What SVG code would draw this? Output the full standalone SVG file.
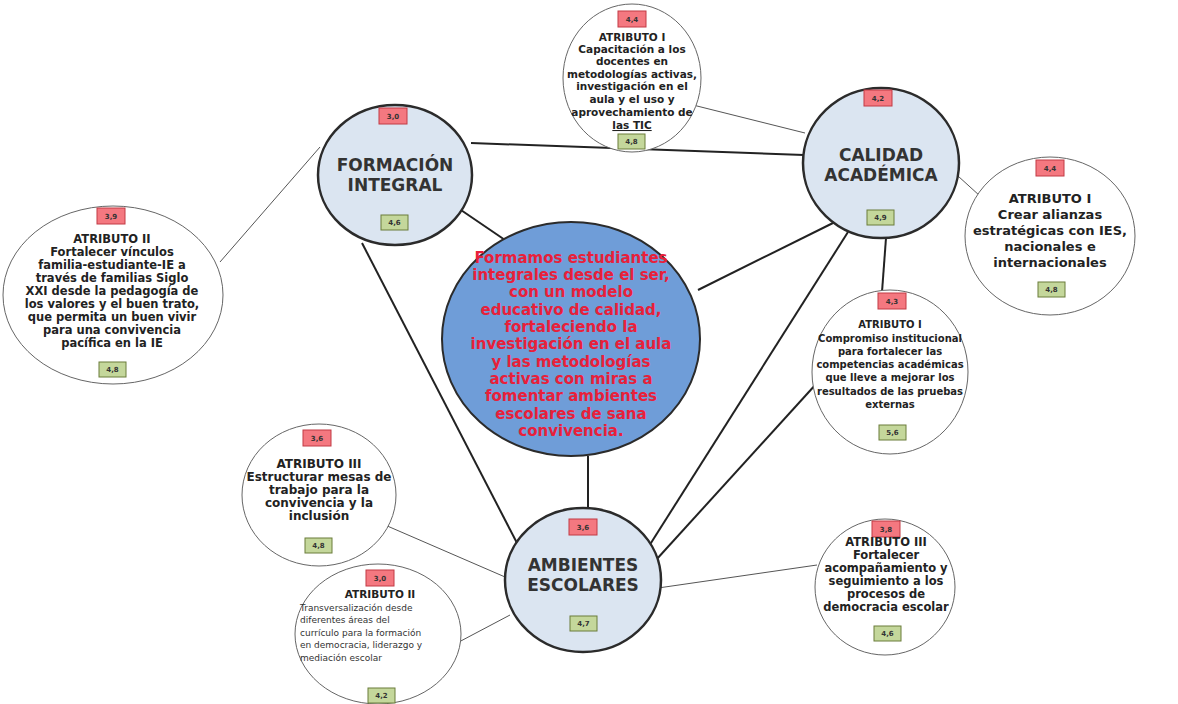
<svg xmlns="http://www.w3.org/2000/svg" width="1178" height="704" viewBox="0 0 1178 704">
<style>
.main{fill:#dbe5f1;stroke:#2b2b2b;stroke-width:2.5}
.core{fill:#6f9dd8;stroke:#2b2b2b;stroke-width:2}
.attr{fill:#fff;stroke:#666;stroke-width:1}
.red{fill:#f47880;stroke:#c23a44;stroke-width:1}
.green{fill:#c4d79b;stroke:#6b7d3a;stroke-width:1}
.num{font-family:"DejaVu Sans",sans-serif;font-weight:bold;font-size:7px;fill:#333;text-anchor:middle}
.title{font-family:"DejaVu Sans",sans-serif;font-weight:bold;font-size:17px;fill:#333;text-anchor:middle}
.at{font-family:"DejaVu Sans",sans-serif;font-weight:bold;fill:#222;text-anchor:middle}
.ctr{font-family:"DejaVu Sans",sans-serif;font-weight:bold;font-size:15px;fill:#e8203a;text-anchor:middle}
.thick{stroke:#222;stroke-width:2;fill:none}
.thin{stroke:#555;stroke-width:1;fill:none}
</style>
<rect width="1178" height="704" fill="#fff"/>
<g id="connectors">
<line class="thick" x1="471" y1="143" x2="804" y2="155"/>
<line class="thick" x1="458" y1="208" x2="505" y2="240"/>
<line class="thick" x1="362" y1="243" x2="518" y2="545"/>
<line class="thick" x1="835" y1="222" x2="698" y2="290"/>
<line class="thick" x1="848" y1="232" x2="637" y2="565"/>
<line class="thick" x1="886" y1="238" x2="882" y2="292"/>
<line class="thick" x1="817" y1="383" x2="656" y2="560"/>
<line class="thick" x1="588" y1="456" x2="588" y2="508"/>
<line class="thin" x1="693" y1="105" x2="805" y2="133"/>
<line class="thin" x1="958" y1="176" x2="980" y2="196"/>
<line class="thin" x1="220" y1="262" x2="320" y2="147"/>
<line class="thin" x1="385" y1="525" x2="512" y2="580"/>
<line class="thin" x1="457" y1="643" x2="510" y2="615"/>
<line class="thin" x1="817" y1="565" x2="658" y2="588"/>
</g>
<g id="center">
<ellipse class="core" cx="571" cy="339" rx="129" ry="117"/>
<text class="ctr"><tspan x="571" y="263">Formamos estudiantes</tspan><tspan x="571" y="280">integrales desde el ser,</tspan><tspan x="571" y="297">con un modelo</tspan><tspan x="571" y="315">educativo de calidad,</tspan><tspan x="571" y="332">fortaleciendo la</tspan><tspan x="571" y="349">investigación en el aula</tspan><tspan x="571" y="367">y las metodologías</tspan><tspan x="571" y="384">activas con miras a</tspan><tspan x="571" y="401">fomentar ambientes</tspan><tspan x="571" y="419">escolares de sana</tspan><tspan x="571" y="436">convivencia.</tspan></text>
</g>
<g id="formacion">
<ellipse class="main" cx="395" cy="175" rx="77" ry="70"/>
<rect class="red" x="379" y="108" width="28" height="16"/><text class="num" x="393" y="119">3,0</text>
<text class="title" x="395" y="171">FORMACIÓN</text>
<text class="title" x="395" y="191">INTEGRAL</text>
<rect class="green" x="381" y="215" width="27" height="15"/><text class="num" x="394.5" y="225">4,6</text>
</g>
<g id="calidad">
<ellipse class="main" cx="881" cy="163" rx="78" ry="75"/>
<rect class="red" x="864" y="90" width="28" height="16"/><text class="num" x="878" y="101">4,2</text>
<text class="title" x="881" y="161">CALIDAD</text>
<text class="title" x="881" y="181">ACADÉMICA</text>
<rect class="green" x="867" y="210" width="27" height="15"/><text class="num" x="880.5" y="220">4,9</text>
</g>
<g id="ambientes">
<ellipse class="main" cx="583" cy="580" rx="78" ry="72"/>
<rect class="red" x="569" y="519" width="28" height="16"/><text class="num" x="583" y="530">3,6</text>
<text class="title" x="583" y="571">AMBIENTES</text>
<text class="title" x="583" y="591">ESCOLARES</text>
<rect class="green" x="570" y="616" width="27" height="15"/><text class="num" x="583.5" y="626">4,7</text>
</g>
<g id="attr-capacitacion">
<ellipse class="attr" cx="632" cy="78" rx="69" ry="74"/>
<rect class="red" x="618" y="11" width="28" height="16"/><text class="num" x="632" y="22">4,4</text>
<text class="at" font-size="10.5"><tspan x="632" y="41">ATRIBUTO I</tspan><tspan x="632" y="53">Capacitación a los</tspan><tspan x="632" y="65">docentes en</tspan><tspan x="632" y="78">metodologías activas,</tspan><tspan x="632" y="90">investigación en el</tspan><tspan x="632" y="103">aula y el uso y</tspan><tspan x="632" y="116">aprovechamiento de</tspan><tspan x="632" y="129" text-decoration="underline">las TIC</tspan></text>
<rect class="green" x="618" y="134" width="27" height="15"/><text class="num" x="631.5" y="144">4,8</text>
</g>
<g id="attr-alianzas">
<ellipse class="attr" cx="1050" cy="236" rx="85" ry="79"/>
<rect class="red" x="1036" y="160" width="28" height="16"/><text class="num" x="1050" y="171">4,4</text>
<text class="at" font-size="13"><tspan x="1050" y="203">ATRIBUTO I</tspan><tspan x="1050" y="219">Crear alianzas</tspan><tspan x="1050" y="235">estratégicas con IES,</tspan><tspan x="1050" y="251">nacionales e</tspan><tspan x="1050" y="267">internacionales</tspan></text>
<rect class="green" x="1038" y="282" width="27" height="15"/><text class="num" x="1051.5" y="292">4,8</text>
</g>
<g id="attr-vinculos">
<ellipse class="attr" cx="113" cy="295" rx="110" ry="89"/>
<rect class="red" x="97" y="208" width="28" height="16"/><text class="num" x="111" y="219">3,9</text>
<text class="at" font-size="11.5"><tspan x="112" y="243">ATRIBUTO II</tspan><tspan x="112" y="256">Fortalecer vínculos</tspan><tspan x="112" y="269">familia-estudiante-IE a</tspan><tspan x="112" y="282">través de familias Siglo</tspan><tspan x="112" y="295">XXI desde la pedagogía de</tspan><tspan x="112" y="308">los valores y el buen trato,</tspan><tspan x="112" y="321">que permita un buen vivir</tspan><tspan x="112" y="334">para una convivencia</tspan><tspan x="112" y="347">pacífica en la IE</tspan></text>
<rect class="green" x="99" y="362" width="27" height="15"/><text class="num" x="112.5" y="372">4,8</text>
</g>
<g id="attr-compromiso">
<ellipse class="attr" cx="890" cy="372" rx="78" ry="82"/>
<rect class="red" x="878" y="293" width="28" height="16"/><text class="num" x="892" y="304">4,3</text>
<text class="at" font-size="10"><tspan x="890" y="328">ATRIBUTO I</tspan><tspan x="890" y="342">Compromiso institucional</tspan><tspan x="890" y="355">para fortalecer las</tspan><tspan x="890" y="368">competencias académicas</tspan><tspan x="890" y="381">que lleve a mejorar los</tspan><tspan x="890" y="395">resultados de las pruebas</tspan><tspan x="890" y="408">externas</tspan></text>
<rect class="green" x="879" y="425" width="27" height="15"/><text class="num" x="892.5" y="435">5,6</text>
</g>
<g id="attr-mesas">
<ellipse class="attr" cx="319" cy="495" rx="77" ry="71"/>
<rect class="red" x="303" y="430" width="28" height="16"/><text class="num" x="317" y="441">3,6</text>
<text class="at" font-size="12"><tspan x="319" y="468">ATRIBUTO III</tspan><tspan x="319" y="481">Estructurar mesas de</tspan><tspan x="319" y="494">trabajo para la</tspan><tspan x="319" y="507">convivencia y la</tspan><tspan x="319" y="520">inclusión</tspan></text>
<rect class="green" x="305" y="538" width="27" height="15"/><text class="num" x="318.5" y="548">4,8</text>
</g>
<g id="attr-transversalizacion">
<ellipse class="attr" cx="378" cy="634" rx="83" ry="70"/>
<rect class="red" x="366" y="570" width="28" height="16"/><text class="num" x="380" y="581">3,0</text>
<text class="at" font-size="10.5" x="380" y="598">ATRIBUTO II</text>
<text font-family="DejaVu Sans, sans-serif" font-size="9" fill="#333"><tspan x="300" y="611">Transversalización desde</tspan><tspan x="300" y="623">diferentes áreas del</tspan><tspan x="300" y="636">currículo para la formación</tspan><tspan x="300" y="648">en democracia, liderazgo y</tspan><tspan x="300" y="661">mediación escolar</tspan></text>
<rect class="green" x="368" y="688" width="27" height="15"/><text class="num" x="381.5" y="698">4,2</text>
</g>
<g id="attr-democracia">
<ellipse class="attr" cx="885" cy="587" rx="70" ry="68"/>
<rect class="red" x="872" y="521" width="28" height="16"/><text class="num" x="886" y="532">3,8</text>
<text class="at" font-size="11.5"><tspan x="886" y="546">ATRIBUTO III</tspan><tspan x="886" y="559">Fortalecer</tspan><tspan x="886" y="572">acompañamiento y</tspan><tspan x="886" y="585">seguimiento a los</tspan><tspan x="886" y="598">procesos de</tspan><tspan x="886" y="611">democracia escolar</tspan></text>
<rect class="green" x="874" y="626" width="27" height="15"/><text class="num" x="887.5" y="636">4,6</text>
</g>
</svg>
